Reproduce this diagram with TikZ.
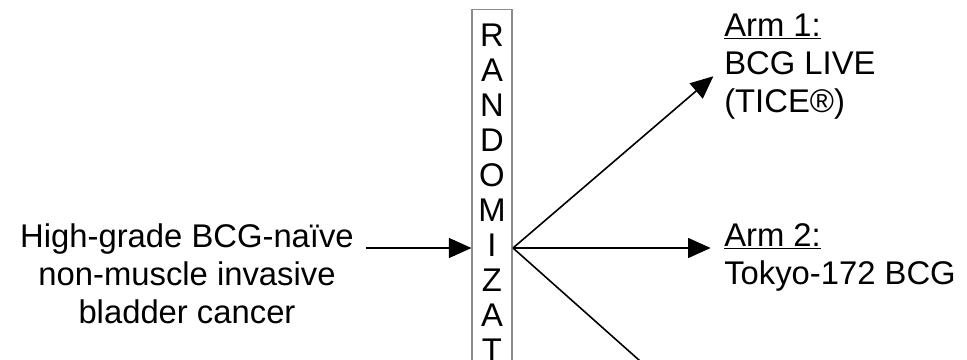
\documentclass[tikz,border=0pt]{standalone}
\usepackage{fontspec}
\setmainfont{Liberation Sans}
\usetikzlibrary{
  arrows.meta,
  positioning
}

\tikzset{
  txt/.style={font=\fontsize{24.6}{28.5}\selectfont, inner sep=0pt},
  arm/.style={txt, align=left, anchor=north west},
  randbox/.style={draw=black!45, line width=0.8pt, minimum width=30pt,
    minimum height=360pt, anchor=north, inner sep=0pt},
  conn/.style={line width=1.2pt, -{Triangle[length=17pt,width=15pt]}}
}

\begin{document}
\begin{tikzpicture}[x=0.75pt,y=-0.75pt]
    \useasboundingbox (0,0) rectangle (967,360);
    \clip (0,0) rectangle (967,360);

    \node[txt,align=center,outer xsep=9pt] (cohort) at (187,274)
      {High-grade BCG-naïve\\non-muscle invasive\\bladder cancer};

    \node[randbox] (rand) at (492,9) {};
    \foreach \ch [count=\i] in {R,A,N,D,O,M,I,Z,A,T,I,O,N}
      \node[txt] (letter\i) at (492,{35+35*(\i-1)}) {\ch};

    \coordinate (split) at (513,248);
    \coordinate (arm3) at (712,425);

    \node[arm] (arm1) at (724,14) {\underline{Arm 1:}\\BCG LIVE\\(TICE®)};
    \node[arm] (arm2) at (724,223) {\underline{Arm 2:}\\Tokyo-172 BCG};

    \draw[conn] (cohort.east |- split) -- (rand.west |- split);
    \draw[conn] (split) -- ([shift={(-8pt,-7pt)}]arm1.west);
    \draw[conn,shorten >=10pt] (split) -- (split -| arm2.west);
    \draw[conn] (split) -- (arm3);
  \end{tikzpicture}
\end{document}
